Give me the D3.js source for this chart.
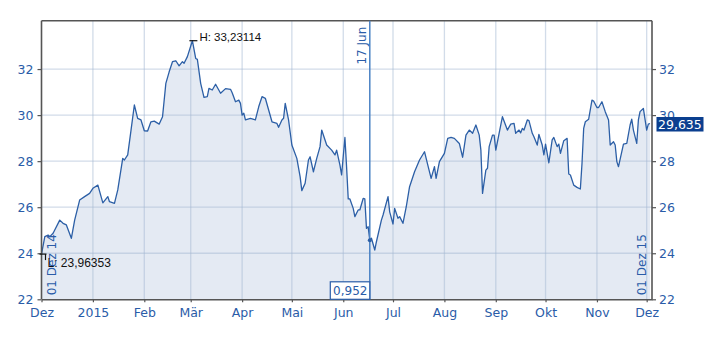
<!DOCTYPE html>
<html>
<head>
<meta charset="utf-8">
<script src="https://cdn.jsdelivr.net/npm/d3@7"></script>
<style>
  body { margin: 0; background: #fff; }
  text { font-family: "DejaVu Sans", sans-serif; }
</style>
</head>
<body>
<div id="container"></div>
<script>
let w = 721;
let h = 337;

// DATA
let startDate = new Date(2014, 11, 1);
// days since 01 Dez 14
let dayOffsets = [0, 2, 4, 5, 7, 11, 13, 15, 18, 20,
  23, 26, 29, 31, 34, 37, 40, 41, 44, 46,
  49, 50, 52, 54, 56, 58, 60, 62, 64, 66,
  68, 71, 73, 75, 77, 79, 81, 83, 85, 86,
  88, 91, 93, 94, 96, 98, 100, 101, 103, 105,
  108, 111, 114, 115, 117, 119, 120, 121, 122, 123,
  126, 129, 131, 133, 135, 137, 139, 142, 143, 145,
  146, 147, 149, 151, 154, 156, 157, 159, 161, 162,
  164, 166, 168, 169, 172, 175, 177, 178, 180, 181,
  183, 184, 185, 186, 188, 189, 191, 192, 194, 195,
  196, 197, 198, 199, 201, 202, 205, 206, 209, 210,
  212, 213, 215, 216, 218, 220, 222, 225, 228, 231,
  233, 235, 237, 238, 240, 243, 245, 247, 249, 252,
  254, 256, 258, 260, 262, 264, 265, 266, 268, 269,
  270, 272, 273, 274, 276, 278, 281, 283, 285, 286,
  288, 289, 290, 291, 293, 294, 296, 297, 299, 300,
  302, 303, 304, 306, 308, 309, 311, 312, 313, 315,
  317, 318, 319, 321, 323, 325, 326, 327, 328, 330,
  332, 333, 335, 336, 338, 340, 342, 343, 345, 346,
  347, 348, 350, 351, 353, 355, 356, 357, 359, 360,
  361, 363, 365, 366, 367];
let prices = [23.96353, 24.72, 24.79, 24.72, 24.87, 25.44, 25.30, 25.23, 24.65, 25.44,
  26.31, 26.46, 26.60, 26.82, 26.96, 26.19, 26.46, 26.24, 26.17, 26.75,
  28.12, 28.05, 28.27, 29.35, 30.44, 29.86, 29.79, 29.32, 29.31, 29.71,
  29.74, 29.61, 29.93, 31.38, 31.88, 32.32, 32.36, 32.14, 32.32, 32.25,
  32.54, 33.23114, 32.46, 32.42, 31.38, 30.77, 30.80, 31.16, 31.09, 31.34,
  30.95, 31.15, 31.12, 30.97, 30.58, 30.65, 30.51, 30.00, 30.08, 29.79,
  29.86, 29.79, 30.36, 30.80, 30.73, 30.22, 29.71, 29.64, 29.47, 29.79,
  29.86, 30.51, 29.79, 28.70, 28.12, 27.32, 26.72, 27.04, 28.05, 28.19,
  27.54, 28.12, 28.63, 29.35, 28.70, 28.48, 28.27, 28.48, 27.83, 27.40,
  29.03, 27.76, 26.36, 26.36, 25.95, 25.59, 25.88, 25.88, 26.38, 26.36,
  25.08, 25.15, 24.57, 24.65, 24.14, 24.50, 25.44, 25.66, 26.46, 25.80,
  25.27, 25.95, 25.52, 25.59, 25.30, 26.02, 26.89, 27.54, 28.05, 28.41,
  27.83, 27.25, 27.76, 27.25, 27.98, 28.34, 28.99, 29.03, 28.99, 28.77,
  28.17, 29.13, 29.35, 29.21, 29.57, 29.13, 28.48, 26.60, 27.61, 27.69,
  28.63, 29.13, 29.13, 28.48, 29.21, 29.93, 29.35, 29.61, 29.64, 29.21,
  29.35, 29.23, 29.42, 29.35, 29.79, 29.76, 29.21, 29.06, 28.70, 29.16,
  28.70, 28.27, 28.74, 27.93, 28.92, 29.03, 28.63, 28.74, 28.34, 28.89,
  28.99, 27.44, 27.40, 26.96, 26.86, 26.79, 27.91, 29.42, 29.71, 29.82,
  30.65, 30.61, 30.33, 30.33, 30.58, 30.15, 29.79, 28.70, 28.84, 28.70,
  27.98, 27.76, 28.41, 28.74, 28.77, 29.57, 29.82, 29.35, 28.77, 29.79,
  30.15, 30.29, 29.35, 29.61, 29.635];

let monthTicks = ["2014-12-01", "2015-01-01", "2015-02-01", "2015-03-01", "2015-04-01", "2015-05-01",
  "2015-06-01", "2015-07-01", "2015-08-01", "2015-09-01", "2015-10-01", "2015-11-01", "2015-12-01"];
let monthLabels = ["Dez", "2015", "Feb", "Mär", "Apr", "Mai", "Jun", "Jul", "Aug", "Sep", "Okt", "Nov", "Dez"];
let yTicks = [22, 24, 26, 28, 30, 32];
let yDomain = [22, 34.1];

let eventDay = 198;
let eventLabel = "17 Jun";
let eventValueLabel = "0,952";
let rangeStartLabel = "01 Dez 14";
let rangeEndLabel = "01 Dez 15";

let de = d3.formatLocale({decimal: ",", thousands: ".", grouping: [3], currency: ["", " €"]});

let data = dayOffsets.map((d, i) => ({date: d3.timeDay.offset(startDate, d), value: prices[i]}));
let parseDay = d3.timeParse("%Y-%m-%d");

// SVG
let viz = d3.select("#container").append("svg")
  .attr("width", w)
  .attr("height", h)
  .style("display", "block")
  .style("background-color", "white");

let plotLeft = 41.5, plotRight = 652, plotTop = 20.7, plotBottom = 299.3;

let x = d3.scaleTime()
  .domain([startDate, d3.timeHour.offset(startDate, Math.round(368.2 * 24))])
  .range([plotLeft, plotRight]);
let y = d3.scaleLinear().domain(yDomain).range([plotBottom, plotTop]);

let blue = "#2a5ca8";

// area
let areaMaker = d3.area().x(d => x(d.date)).y0(plotBottom).y1(d => y(d.value));
viz.append("path").datum(data)
  .attr("d", areaMaker)
  .attr("fill", "#e4eaf3");

// grid
viz.selectAll(".hgrid").data(yTicks.slice(1)).enter()
  .append("line")
  .attr("class", "hgrid")
  .attr("x1", plotLeft).attr("x2", plotRight)
  .attr("y1", d => y(d)).attr("y2", d => y(d))
  .attr("stroke", "rgba(165,185,212,0.5)")
  .attr("stroke-width", 1.3);

viz.selectAll(".vgrid").data(monthTicks.slice(1)).enter()
  .append("line")
  .attr("class", "vgrid")
  .attr("x1", d => x(parseDay(d))).attr("x2", d => x(parseDay(d)))
  .attr("y1", plotTop).attr("y2", plotBottom)
  .attr("stroke", "rgba(165,185,212,0.5)")
  .attr("stroke-width", 1.3);

// line
let lineMaker = d3.line().x(d => x(d.date)).y(d => y(d.value));
viz.append("path").datum(data)
  .attr("d", lineMaker)
  .attr("fill", "none")
  .attr("stroke", "#2c5fa6")
  .attr("stroke-width", 1.3)
  .attr("stroke-linejoin", "round");

// axes
let axisColor = "#555";
let yLeft = viz.append("g").attr("transform", `translate(${plotLeft},0)`)
  .call(d3.axisLeft(y).tickValues(yTicks).tickSize(4).tickSizeOuter(0).tickPadding(4));
let yRight = viz.append("g").attr("transform", `translate(${plotRight},0)`)
  .call(d3.axisRight(y).tickValues(yTicks).tickSize(4).tickSizeOuter(0).tickPadding(3));
let xAxis = viz.append("g").attr("transform", `translate(0,${plotBottom})`)
  .call(d3.axisBottom(x).tickValues(monthTicks.map(parseDay)).tickSize(3).tickSizeOuter(0).tickPadding(6)
    .tickFormat((d, i) => monthLabels[i]));

[yLeft, yRight, xAxis].forEach(g => {
  g.select(".domain").attr("stroke", axisColor).attr("stroke-width", 1.6);
  g.selectAll(".tick line").attr("stroke", axisColor).attr("stroke-width", 1.2);
  g.selectAll(".tick text").attr("fill", blue)
    .style("font-family", "DejaVu Sans").style("font-size", "12.5px");
});
yLeft.select(".domain").attr("d", `M0,${plotTop}V${plotBottom}`);
yRight.select(".domain").attr("d", `M0,${plotTop}V${plotBottom}`);

// top frame
viz.append("line")
  .attr("x1", plotLeft).attr("x2", plotRight)
  .attr("y1", plotTop).attr("y2", plotTop)
  .attr("stroke", axisColor).attr("stroke-width", 1.6);

// range labels
viz.append("text")
  .attr("transform", `translate(${x(startDate) + 14},${plotBottom - 4}) rotate(-90)`)
  .attr("fill", blue).style("font-size", "12px")
  .text(rangeStartLabel);
viz.append("text")
  .attr("transform", `translate(${x(parseDay(monthTicks[12])) - 1},${plotBottom - 4}) rotate(-90)`)
  .attr("fill", blue).style("font-size", "12px")
  .text(rangeEndLabel);

// event line
let eventDate = d3.timeDay.offset(startDate, eventDay);
let ex = x(eventDate);
viz.append("line")
  .attr("x1", ex).attr("x2", ex)
  .attr("y1", plotTop).attr("y2", plotBottom)
  .attr("stroke", "#4a82c4").attr("stroke-width", 1.5);
let eventPoint = data.find(d => +d.date === +eventDate);
if (eventPoint) {
  viz.append("circle")
    .attr("cx", ex).attr("cy", y(eventPoint.value)).attr("r", 2)
    .attr("fill", "#2c5fa6");
}
viz.append("text")
  .attr("transform", `translate(${ex - 3.5},${plotTop + 6}) rotate(-90)`)
  .attr("text-anchor", "end")
  .attr("fill", blue).style("font-size", "12px")
  .text(eventLabel);
viz.append("rect")
  .attr("x", ex - 39.5).attr("y", plotBottom - 17.5)
  .attr("width", 39.5).attr("height", 17.5)
  .attr("fill", "white").attr("stroke", blue).attr("stroke-width", 1.2);
viz.append("text")
  .attr("x", ex - 19.5).attr("y", plotBottom - 4.5)
  .attr("text-anchor", "middle")
  .attr("fill", blue).style("font-size", "12px")
  .text(eventValueLabel);

// high / low markers
let hi = data[d3.maxIndex(data, d => d.value)];
let lo = data[d3.minIndex(data, d => d.value)];
let hx = x(hi.date), hy = y(hi.value);
viz.append("line")
  .attr("x1", hx - 3).attr("x2", hx + 5)
  .attr("y1", hy).attr("y2", hy)
  .attr("stroke", "#111").attr("stroke-width", 1.2);
viz.append("text")
  .attr("x", hx + 7).attr("y", hy)
  .attr("fill", "#111")
  .style("font-family", "Liberation Sans").style("font-size", "11.5px")
  .text("H: " + de.format(".5f")(hi.value));

let lx = x(lo.date), ly = y(lo.value);
viz.append("line")
  .attr("x1", lx - 2).attr("x2", lx + 5)
  .attr("y1", ly).attr("y2", ly)
  .attr("stroke", "#111").attr("stroke-width", 1.2);
viz.append("line")
  .attr("x1", lx + 4).attr("x2", lx + 4)
  .attr("y1", ly).attr("y2", ly + 6)
  .attr("stroke", "#111").attr("stroke-width", 1.2);
viz.append("text")
  .attr("x", lx + 6).attr("y", ly + 13)
  .attr("fill", "#111")
  .style("font-family", "Liberation Sans").style("font-size", "12px")
  .text("L: " + de.format(".5f")(lo.value));

// last value box
let last = data[data.length - 1];
let lastY = y(last.value);
viz.append("rect")
  .attr("x", plotRight + 4.5).attr("y", lastY - 6.5)
  .attr("width", 47).attr("height", 14.5)
  .attr("fill", "#0b3f8f");
viz.append("text")
  .attr("x", plotRight + 6).attr("y", lastY + 5)
  .attr("fill", "white").style("font-size", "12.5px")
  .text(de.format(".3f")(last.value));
</script>
</body>
</html>
